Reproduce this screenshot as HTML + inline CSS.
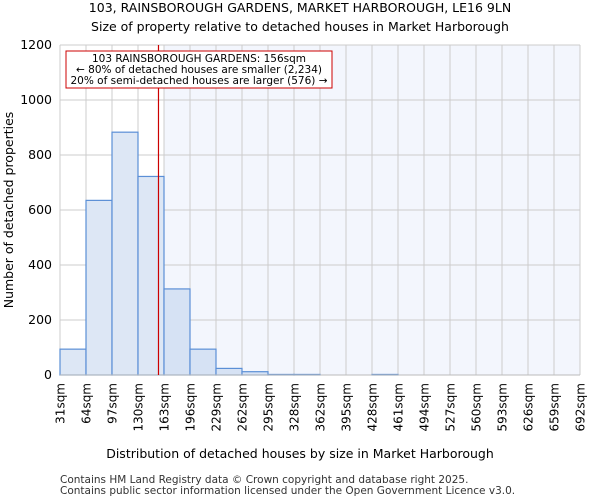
<!DOCTYPE html>
<html><head><meta charset="utf-8"><style>
body{margin:0;background:#fff;font-family:"DejaVu Sans","Liberation Sans",sans-serif}
</style></head><body>
<svg id="chart" width="600" height="500" xmlns="http://www.w3.org/2000/svg" font-family="DejaVu Sans, Liberation Sans, sans-serif">
<text x="300" y="12" text-anchor="middle" font-size="12.5">103, RAINSBOROUGH GARDENS, MARKET HARBOROUGH, LE16 9LN</text>
<text x="300" y="31" text-anchor="middle" font-size="12.5">Size of property relative to detached houses in Market Harborough</text>
<g id="plot"></g>
<text x="300" y="458" text-anchor="middle" font-size="12.5">Distribution of detached houses by size in Market Harborough</text>
<text transform="translate(13,210) rotate(-90)" text-anchor="middle" font-size="12.5">Number of detached properties</text>
<text x="60" y="483" font-size="10.5" fill="#333">Contains HM Land Registry data © Crown copyright and database right 2025.</text>
<text x="60" y="494" font-size="10.5" fill="#333">Contains public sector information licensed under the Open Government Licence v3.0.</text>
</svg>
<script>
const categories=["31sqm","64sqm","97sqm","130sqm","163sqm","196sqm","229sqm","262sqm","295sqm","328sqm","362sqm","395sqm","428sqm","461sqm","494sqm","527sqm","560sqm","593sqm","626sqm","659sqm","692sqm"];
const counts=[94,635,883,722,313,94,24,12,2,2,0,0,2,0,0,0,0,0,0,0];
const yTicks=[0,200,400,600,800,1000,1200];
const propertySize=156;
const binStart=31, binWidth=33;
const X0=60,X1=580,Y0=375,Y1=45,YMAX=1200;
const nb=counts.length, bw=(X1-X0)/nb;
const xs=v=>X0+(v-binStart)/binWidth*bw;
const ys=v=>Y0-(v/YMAX)*(Y0-Y1);
const NS="http://www.w3.org/2000/svg";
const g=document.getElementById('plot');
function mk(t,a){const e=document.createElementNS(NS,t);for(const k in a)e.setAttribute(k,a[k]);g.appendChild(e);return e;}
const markX=xs(propertySize);
const shadeStart=X0+Math.ceil((propertySize-binStart)/binWidth)*bw;
let r=mk('rect',{x:shadeStart,y:Y1,width:X1-shadeStart,height:Y0-Y1,fill:'#f3f6fd'});


for(let i=0;i<=nb;i++){const x=X0+i*bw;
 let l=mk('line',{x1:x,x2:x,y1:Y1,y2:Y0,stroke:'#cccccc','stroke-width':1});
 
 
 let t=mk('text',{transform:`translate(${x+4.5},${Y0+8}) rotate(-90)`,'text-anchor':'end','font-size':12});
 t.textContent=categories[i];
 
 
}
yTicks.forEach(v=>{const y=ys(v);
 let l=mk('line',{x1:X0,x2:X1,y1:y,y2:y,stroke:'#cccccc','stroke-width':1});
 
 
 let t=mk('text',{x:X0-8,y:y+4,'text-anchor':'end','font-size':12.5});
 t.textContent=v;
 
 
});
counts.forEach((c,i)=>{const x=X0+i*bw, y=ys(c);
 const right=x>=shadeStart-0.1;
 let b=mk('rect',{x:x,y:y,width:bw,height:Y0-y,fill:right?'#d6e2f4':'#dde7f5',stroke:'#5b8fd6','stroke-width':1.2});
 
 
});
let ax=mk('line',{x1:X0,x2:X1,y1:Y0,y2:Y0,stroke:'#bbb'});


let m=mk('line',{x1:markX,x2:markX,y1:Y1,y2:Y0,stroke:'#cc0000','stroke-width':1.2});


let bx=mk('rect',{x:66,y:51,width:266,height:37,fill:'#fff',stroke:'#cc0000','stroke-width':1});


["103 RAINSBOROUGH GARDENS: 156sqm","← 80% of detached houses are smaller (2,234)","20% of semi-detached houses are larger (576) →"].forEach((s,i)=>{
 let t=mk('text',{x:199,y:62+i*11,'text-anchor':'middle','font-size':10.5});
 t.textContent=s;
 
 
});
</script>
</body></html>
